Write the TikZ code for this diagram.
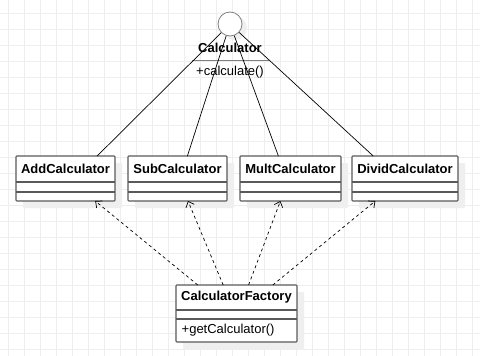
\documentclass[tikz,border=0pt]{standalone}
\usepackage{fontspec}
\setmainfont{Liberation Sans}
\usetikzlibrary{calc,shadows,arrows.meta}
\definecolor{gridc}{HTML}{EEEEEE}
\definecolor{boxc}{HTML}{5A5A5A}
\definecolor{shadowc}{HTML}{EFEFEF}
\definecolor{sepc}{HTML}{808080}
\tikzset{
  cls/.style={draw=boxc, line width=1.1pt, fill=white, rounded corners=0.8pt,
    inner sep=0pt, outer sep=0pt,
    drop shadow={shadow xshift=7pt, shadow yshift=-7pt, fill=shadowc, opacity=1}},
  clsname/.style={font=\bfseries\fontsize{13}{15}\selectfont, text=black, inner sep=0pt},
  member/.style={font=\fontsize{13}{15}\selectfont, text=black, inner sep=0pt},
  sepl/.style={draw=boxc, line width=1.1pt},
  real/.style={draw=black, line width=0.7pt},
  dep/.style={draw=black, line width=0.7pt, dash pattern=on 3pt off 3pt,
    -{Straight Barb[length=5pt,width=9pt,line width=0.7pt]}},
}
\begin{document}
\begin{tikzpicture}[x=1pt,y=-1pt]
\useasboundingbox (0,0) rectangle (480,356);
\fill[white] (0,0) rectangle (480,356);
% grid
\foreach \gx in {8,24,...,480} \draw[gridc, line width=0.9pt] (\gx,0) -- (\gx,356);
\foreach \gy in {13,29,...,356} \draw[gridc, line width=0.9pt] (0,\gy) -- (480,\gy);

% interface lollipop
\node[circle, draw=sepc, line width=0.8pt, fill=white, minimum size=24pt, inner sep=0pt,
  drop shadow={shadow xshift=5pt, shadow yshift=-4pt, fill=shadowc, opacity=1}] (circ) at (230,24) {};
\node[clsname] (calcname) at (230,48) {Calculator};
\draw[draw=sepc, line width=1.4pt] (192,60.5) -- (269,60.5);
\node[member] (calcop) at (230,72) {+calculate()};

% classes
\node[cls, minimum width=99pt, minimum height=45pt] (add) at (65.5,178.5) {};
\node[cls, minimum width=99pt, minimum height=45pt] (sub) at (177.5,178.5) {};
\node[cls, minimum width=101pt, minimum height=45pt] (mult) at (290.5,178.5) {};
\node[cls, minimum width=106pt, minimum height=45pt] (divd) at (405,178.5) {};
\foreach \c/\t in {add/AddCalculator, sub/SubCalculator, mult/MultCalculator, divd/DividCalculator}{
  \node[clsname] (\c-name) at ($(\c.north)+(0,13)$) {\t};
  \draw[sepl] ($(\c.north west)+(0,26)$) -- ($(\c.north east)+(0,26)$);
  \draw[sepl] ($(\c.north west)+(0,36)$) -- ($(\c.north east)+(0,36)$);
}

% factory
\node[cls, minimum width=121pt, minimum height=57pt] (fac) at (236.5,313.5) {};
\node[clsname] (fac-name) at ($(fac.north)+(0,12.5)$) {CalculatorFactory};
\draw[sepl] ($(fac.north west)+(0,25)$) -- ($(fac.north east)+(0,25)$);
\draw[sepl] ($(fac.north west)+(0,34)$) -- ($(fac.north east)+(0,34)$);
\node[member, anchor=west] (fac-op) at ($(fac.north west)+(5.5,45.5)$) {+getCalculator()};

% realization lines
\draw[real] (circ) -- ($(add.north west)!0.82!(add.north east)$);
\draw[real] (circ) -- ($(sub.north west)!0.60!(sub.north east)$);
\draw[real] (circ) -- ($(mult.north west)!0.38!(mult.north east)$);
\draw[real] (circ) -- ($(divd.north west)!0.20!(divd.north east)$);

% dependencies
\draw[dep] ($(fac.north west)!0.18!(fac.north east)$) -- ($(add.south west)!0.80!(add.south east)$);
\draw[dep] ($(fac.north west)!0.39!(fac.north east)$) -- ($(sub.south west)!0.606!(sub.south east)$);
\draw[dep] ($(fac.north west)!0.60!(fac.north east)$) -- ($(mult.south west)!0.40!(mult.south east)$);
\draw[dep] ($(fac.north west)!0.80!(fac.north east)$) -- ($(divd.south west)!0.22!(divd.south east)$);
\end{tikzpicture}
\end{document}
